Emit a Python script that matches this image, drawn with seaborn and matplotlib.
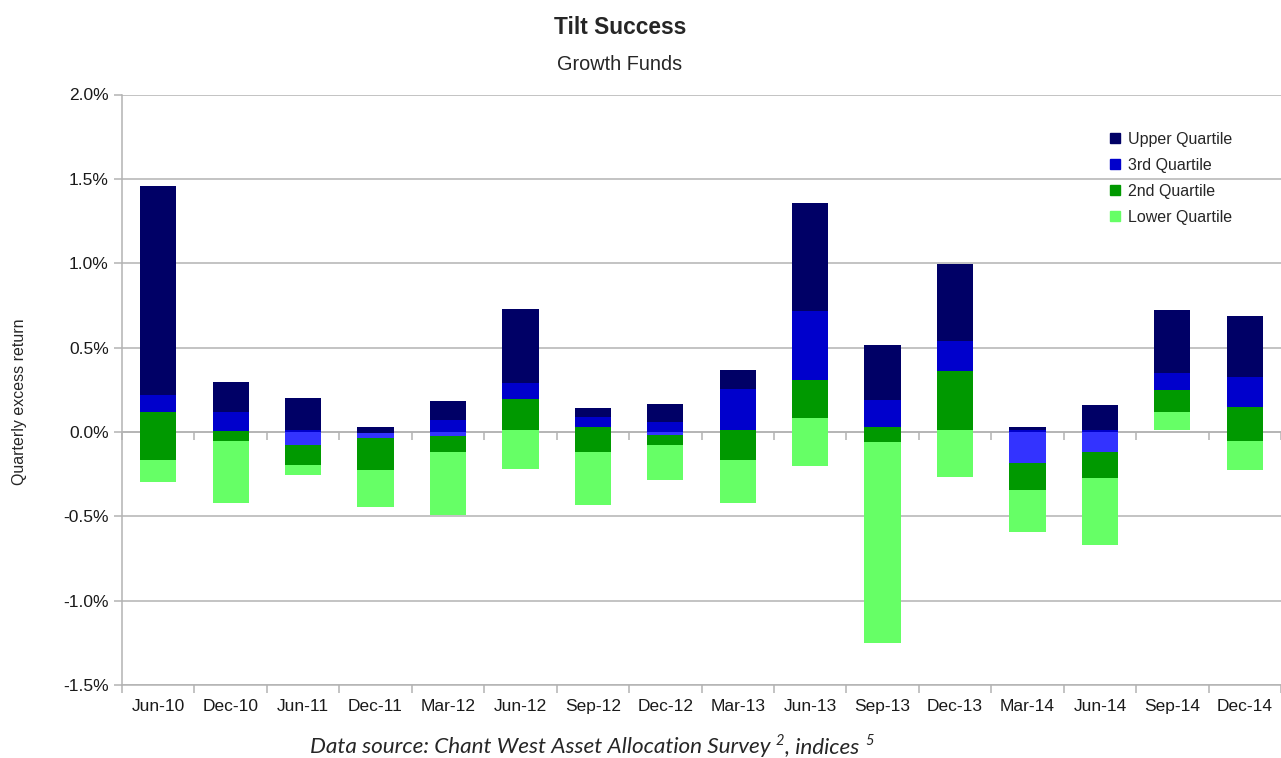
import numpy as np
import pandas as pd
import seaborn as sns
import matplotlib.pyplot as plt
from matplotlib.lines import Line2D
from matplotlib.ticker import FuncFormatter

# quarter labels
dates = ["Jun-10", "Dec-10", "Jun-11", "Dec-11", "Mar-12", "Jun-12", "Sep-12", "Dec-12",
         "Mar-13", "Jun-13", "Sep-13", "Dec-13", "Mar-14", "Jun-14", "Sep-14", "Dec-14"]

# quartile boundaries of quarterly excess return (%)
top_q = [1.459, 0.296, 0.199, 0.028, 0.184, 0.731, 0.139, 0.168,
         0.370, 1.354, 0.517, 0.996, 0.032, 0.157, 0.722, 0.687]
upper_q = [0.219, 0.116, 0.012, -0.008, 0.073, 0.291, 0.089, 0.057,
           0.256, 0.716, 0.187, 0.539, 0.010, 0.012, 0.351, 0.325]
median_q = [0.116, 0.005, -0.079, -0.038, -0.026, 0.198, 0.028, -0.020,
            0.010, 0.308, 0.032, 0.364, -0.183, -0.117, 0.248, 0.149]
lower_q = [-0.166, -0.055, -0.197, -0.223, -0.119, 0.012, -0.119, -0.077,
           -0.169, 0.080, -0.062, 0.012, -0.347, -0.276, 0.117, -0.056]
bottom_q = [-0.294, -0.422, -0.258, -0.443, -0.495, -0.218, -0.436, -0.287,
            -0.421, -0.203, -1.249, -0.266, -0.595, -0.669, 0.012, -0.224]

sns.set_style("white")
plt.rcParams['font.family'] = ['Liberation Sans', 'DejaVu Sans']

navy = "#000066"
blue = "#0000cc"
blue_neg = "#3333ff"
green = "#009900"
lgreen = "#66ff66"
grid_c = "#b3b3b3"

df = pd.DataFrame({"date": dates, "top": top_q, "upper": upper_q,
                   "median": median_q, "lower": lower_q, "bottom": bottom_q})

fig = plt.figure(figsize=(12.81, 7.58), dpi=100)
ax = fig.add_axes([122 / 1281, 1 - 685 / 758, 1 - 122 / 1281, (685 - 94.5) / 758])


def segment(lo, hi, color):
    sns.barplot(x=df["date"], y=(hi - lo).values, bottom=lo.values, color=color,
                saturation=1, width=0.5, errorbar=None, linewidth=0, order=dates, ax=ax)


segment(df["upper"], df["top"], navy)
segment(df["median"].clip(lower=0), df["upper"].clip(lower=0), blue)
segment(df["median"].clip(upper=0), df["upper"].clip(upper=0), blue_neg)
segment(df["lower"], df["median"], green)
segment(df["bottom"], df["lower"], lgreen)

ax.set_xlim(-0.5, 15.41)
ax.set_ylim(-1.5, 2.0)
ax.set_yticks(np.arange(-1.5, 2.01, 0.5))
ax.yaxis.set_major_formatter(FuncFormatter(lambda v, p: f"{v:.1f}%"))
ax.set_xlabel("")
ax.set_ylabel("")
ax.grid(axis="y", color=grid_c, lw=1.1)
ax.set_axisbelow(True)
for s in ["top", "right"]:
    ax.spines[s].set_visible(False)
for s in ["left", "bottom"]:
    ax.spines[s].set_color(grid_c)
    ax.spines[s].set_linewidth(1.1)

ax.set_xticks(np.arange(-0.5, 16, 1), minor=True)
ax.tick_params(axis="x", which="major", bottom=True, length=0, pad=10, labelsize=12.5, labelcolor="#1a1a1a")
ax.tick_params(axis="x", which="minor", bottom=True, length=6, width=1.1, color=grid_c, direction="out")
ax.tick_params(axis="y", left=True, length=6, width=1.1, color=grid_c, direction="out", pad=3.5,
               labelsize=12.5, labelcolor="#1a1a1a")

# tick marks on the zero line
sec = ax.secondary_xaxis(1.5 / 3.5)
sec.set_xticks(np.arange(-0.5, 16, 1))
sec.set_xticklabels([])
sec.tick_params(axis="x", length=6, width=1.1, color=grid_c, direction="out")
sec.spines["bottom"].set_color(grid_c)
sec.spines["bottom"].set_linewidth(1.1)

handles = [Line2D([], [], marker="s", ls="none", markersize=7, color=c) for c in [navy, blue, green, lgreen]]
ax.legend(handles, ["Upper Quartile", "3rd Quartile", "2nd Quartile", "Lower Quartile"],
          loc="upper left", bbox_to_anchor=(1109.5 / 1281, 1 - 132 / 758), bbox_transform=fig.transFigure,
          frameon=False, fontsize=11.5, borderpad=0, borderaxespad=0, handlelength=0.7,
          handletextpad=0.46, labelspacing=0.68)

fig.text(620 / 1281, 1 - 27 / 758, "Tilt Success", ha="center", va="center", fontsize=16.4, fontweight="bold")
fig.text(620 / 1281, 1 - 64 / 758, "Growth Funds", ha="center", va="center", fontsize=14.3)
fig.text(20 / 1281, 1 - 402 / 758, "Quarterly excess return", rotation=90, ha="center", va="center", fontsize=11.5)

# footnote with superscripts
fn = dict(family=["Lato", "DejaVu Sans"], style="italic", fontsize=16.2)
t1 = fig.text(310 / 1281, 1 - 757 / 758, "Data source: Chant West Asset Allocation Survey", ha="left",
              va="bottom", **fn)
s1 = ax.annotate("2", xy=(1, 0.45), xycoords=t1, xytext=(4, 0), textcoords="offset points",
                 ha="left", va="bottom", annotation_clip=False, **{**fn, "fontsize": 10.5})
t2 = ax.annotate(", indices", xy=(1, 0), xycoords=(s1, t1), xytext=(0.5, 0), textcoords="offset points",
                 ha="left", va="bottom", annotation_clip=False, **fn)
ax.annotate("5", xy=(1, 0.45), xycoords=t2, xytext=(4, 0), textcoords="offset points",
            ha="left", va="bottom", annotation_clip=False, **{**fn, "fontsize": 10.5})

fig.savefig("out.png", dpi=100)
